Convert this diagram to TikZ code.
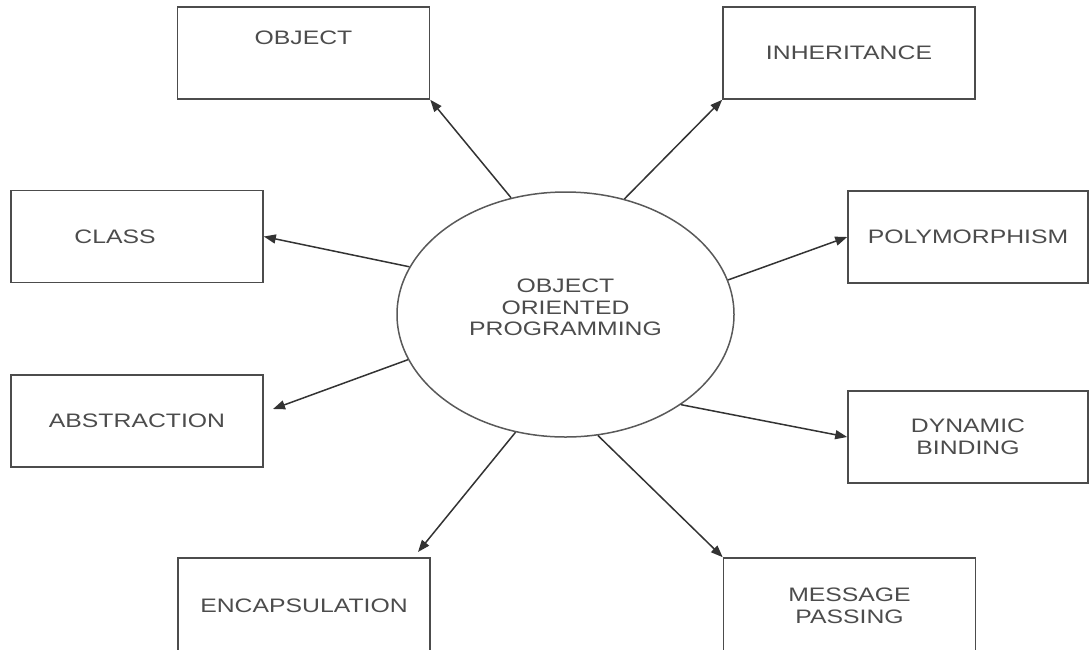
\documentclass[tikz,border=0pt]{standalone}
\usepackage{fontspec}
\setmainfont[FakeStretch=1.27]{Liberation Sans}
\usetikzlibrary{arrows.meta,shapes.geometric}
\tikzset{
  box/.style={draw=black!70, line width=1.6pt, minimum width=252pt, minimum height=92pt, inner sep=0pt, align=center, text=black!70, font=\fontsize{19.5}{21.5}\selectfont},
  narrowbox/.style={box, minimum width=240pt},
  lowbox/.style={box, minimum height=96pt},
  hub/.style={ellipse, draw=black!65, line width=1.5pt, minimum width=337pt, minimum height=245pt, inner sep=0pt, align=center, text=black!70, font=\fontsize{19.5}{21.5}\selectfont},
  arrow/.style={-{Triangle[length=12pt,width=9pt]}, draw=black!80, line width=1.5pt}
}
\begin{document}
\begin{tikzpicture}[x=1pt,y=-1pt]
\clip (0,0) rectangle (1089,649);
\node[hub, text depth=14pt] (oop) at (565.5,314.5) {OBJECT\\ORIENTED\\PROGRAMMING};
\node[box, text height=14pt, text depth=32pt] (object) at (303.5,53) {OBJECT};
\node[box] (inherit) at (849,53) {INHERITANCE};
\node[box] (class) at (137,236.5) {CLASS\hspace*{44pt}};
\node[box] (abstr) at (137,421) {ABSTRACTION};
\node[narrowbox] (poly) at (968,237) {POLYMORPHISM};
\node[narrowbox] (dyn) at (968,437) {DYNAMIC\\BINDING};
\node[lowbox] (encap) at (304,606) {ENCAPSULATION};
\node[lowbox] (msg) at (849.5,606) {MESSAGE\\PASSING};
\coordinate (abstip) at (273,409);
\coordinate (enctip) at (418,552);
\draw[arrow] (oop.115) -- (object.south east);
\draw[arrow] (oop.63) -- (inherit.south west);
\draw[arrow] (oop.163) -- (class.east);
\draw[arrow] (oop.196) -- (abstip);
\draw[arrow] (oop.12) -- (poly.west);
\draw[arrow] (oop.-38) -- (dyn.west);
\draw[arrow] (oop.247) -- (enctip);
\draw[arrow] (oop.285) -- (msg.north west);
\end{tikzpicture}
\end{document}
